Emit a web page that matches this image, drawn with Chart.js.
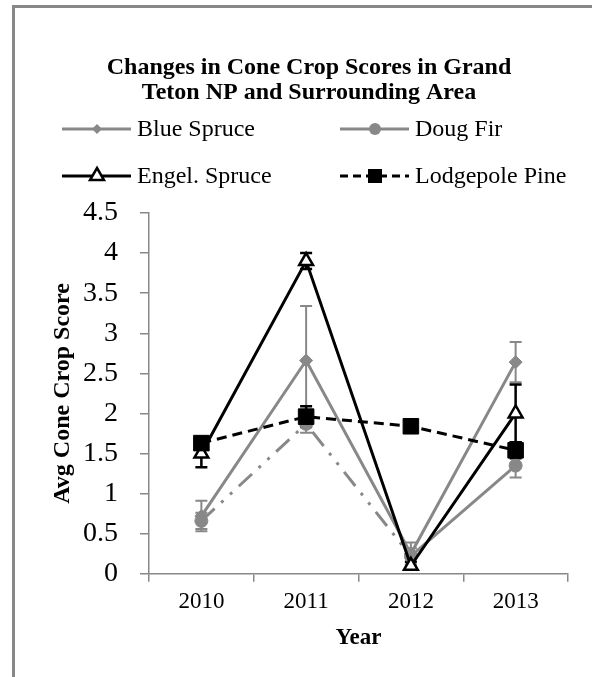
<!DOCTYPE html>
<html>
<head>
<meta charset="utf-8">
<script src="https://cdn.jsdelivr.net/npm/chart.js@4"></script>
<style>
  html, body { margin: 0; padding: 0; background: #fff; }
  body { width: 592px; height: 677px; position: relative; overflow: hidden; }
  .frame { position: absolute; left: 12px; top: 5px; width: 640px; height: 720px; border: 3px solid #888; }
  #wrap { position: absolute; left: 0; top: 0; width: 592px; height: 677px; }
</style>
</head>
<body>
<div class="frame"></div>
<div id="wrap"><canvas id="myChart" width="592" height="677"></canvas></div>
<script>
/* data */
var years = ['2010', '2011', '2012', '2013'];
var titleLines = ['Changes in Cone Crop Scores in Grand', 'Teton NP and Surrounding Area'];

var blueSpruce = [0.72, 2.66, 0.25, 2.64];
var blueSpruceErr = [0.19, 0.68, 0.14, 0.25];
var dougFir = [0.66, 1.87, 0.22, 1.35];
var dougFirErr = [0.10, 0.11, 0.10, 0.15];
var engelSpruce = [1.50, 3.90, 0.10, 2.00];
var engelSpruceErr = [0.17, 0.10, 0.05, 0.36];
var lodgepole = [1.63, 1.96, 1.84, 1.54];
var lodgepoleErr = [0.05, 0.13, 0.03, 0.10];

var GRAY = '#888888';
var BLACK = '#000000';
var SERIF = '"Liberation Serif", "Times New Roman", serif';

/* error bars, drawn under the markers */
var errorBars = {
  id: 'errorBars',
  beforeDatasetsDraw: function (chart) {
    var ctx = chart.ctx;
    var y = chart.scales.y;
    chart.data.datasets.forEach(function (ds, i) {
      var meta = chart.getDatasetMeta(i);
      if (!ds.errors) return;
      ctx.save();
      ctx.strokeStyle = ds.borderColor;
      ctx.lineWidth = ds.borderColor === BLACK ? 2.5 : 2;
      meta.data.forEach(function (pt, j) {
        var top = y.getPixelForValue(ds.data[j] + ds.errors[j]);
        var bot = y.getPixelForValue(ds.data[j] - ds.errors[j]);
        ctx.beginPath();
        ctx.moveTo(pt.x, top); ctx.lineTo(pt.x, bot);
        ctx.moveTo(pt.x - 6, top); ctx.lineTo(pt.x + 6, top);
        ctx.moveTo(pt.x - 6, bot); ctx.lineTo(pt.x + 6, bot);
        ctx.stroke();
      });
      ctx.restore();
    });
  }
};

function drawMarker(ctx, style, x, y, r, fill, stroke) {
  ctx.beginPath();
  if (style === 'circle') {
    ctx.arc(x, y, r, 0, Math.PI * 2);
  } else if (style === 'rect') {
    ctx.rect(x - r, y - r, r * 2, r * 2);
  } else if (style === 'rectRot') {
    ctx.moveTo(x, y - r); ctx.lineTo(x + r, y); ctx.lineTo(x, y + r); ctx.lineTo(x - r, y);
    ctx.closePath();
  } else if (style === 'triangle') {
    ctx.moveTo(x, y - r); ctx.lineTo(x + r * 0.87, y + r * 0.5); ctx.lineTo(x - r * 0.87, y + r * 0.5);
    ctx.closePath();
  }
  ctx.fillStyle = fill;
  ctx.fill();
  if (stroke) {
    ctx.strokeStyle = stroke;
    ctx.lineWidth = 2.5;
    ctx.setLineDash([]);
    ctx.stroke();
  }
}

/* title + two column legend */
var header = {
  id: 'header',
  afterDraw: function (chart) {
    var ctx = chart.ctx;
    ctx.save();
    ctx.fillStyle = BLACK;
    ctx.textAlign = 'center';
    ctx.textBaseline = 'alphabetic';
    ctx.font = 'bold 24px ' + SERIF;
    ctx.fillText(titleLines[0], 309, 74);
    ctx.fillText(titleLines[1], 309, 99);

    var cols = [62, 340];
    var rows = [129, 176];
    chart.data.datasets.forEach(function (ds, i) {
      var x0 = cols[i % 2], yy = rows[Math.floor(i / 2)];
      ctx.beginPath();
      ctx.strokeStyle = ds.borderColor;
      ctx.lineWidth = 3;
      ctx.setLineDash(ds.legendDash || []);
      ctx.moveTo(x0, yy); ctx.lineTo(x0 + 69, yy);
      ctx.stroke();
      ctx.setLineDash([]);
      drawMarker(ctx, ds.pointStyle, x0 + 35, yy, ds.legendRadius, ds.pointBackgroundColor,
        ds.pointBackgroundColor === '#ffffff' ? BLACK : null);
      ctx.fillStyle = BLACK;
      ctx.textAlign = 'left';
      ctx.textBaseline = 'middle';
      ctx.font = '24px ' + SERIF;
      ctx.fillText(ds.label, x0 + 75, yy + 1);
    });
    ctx.restore();
  }
};

var ctx = document.getElementById('myChart').getContext('2d');
new Chart(ctx, {
  type: 'line',
  data: {
    labels: years,
    datasets: [
      {
        label: 'Blue Spruce',
        data: blueSpruce,
        errors: blueSpruceErr,
        borderColor: GRAY,
        borderWidth: 3,
        pointStyle: 'rectRot',
        pointRadius: 6.5,
        pointBackgroundColor: GRAY,
        pointBorderColor: GRAY,
        pointBorderWidth: 1,
        legendRadius: 5,
        order: 4
      },
      {
        label: 'Doug Fir',
        data: dougFir,
        errors: dougFirErr,
        borderColor: GRAY,
        borderWidth: 3,
        pointStyle: 'circle',
        pointRadius: 6.5,
        pointBackgroundColor: GRAY,
        pointBorderColor: GRAY,
        pointBorderWidth: 1,
        legendRadius: 6,
        segment: {
          borderDash: function (c) { return c.p0DataIndex < 2 ? [18, 9, 3, 9, 3, 9] : []; }
        },
        order: 3
      },
      {
        label: 'Engel. Spruce',
        data: engelSpruce,
        errors: engelSpruceErr,
        borderColor: BLACK,
        borderWidth: 3,
        pointStyle: 'triangle',
        pointRadius: 8,
        pointBackgroundColor: '#ffffff',
        pointBorderColor: BLACK,
        pointBorderWidth: 2.5,
        legendRadius: 8,
        order: 2
      },
      {
        label: 'Lodgepole Pine',
        data: lodgepole,
        errors: lodgepoleErr,
        borderColor: BLACK,
        borderWidth: 3,
        borderDash: [10, 6],
        legendDash: [8, 5],
        pointStyle: 'rect',
        pointRadius: 11,
        pointBackgroundColor: BLACK,
        pointBorderColor: BLACK,
        pointBorderWidth: 1,
        legendRadius: 7,
        order: 1
      }
    ]
  },
  options: {
    responsive: false,
    animation: false,
    layout: { padding: { top: 213, left: 0, right: 24, bottom: 25 } },
    plugins: {
      legend: { display: false },
      title: { display: false },
      tooltip: { enabled: false }
    },
    scales: {
      x: {
        offset: true,
        grid: { offset: true, drawOnChartArea: false, drawTicks: true, tickLength: 8, color: GRAY, lineWidth: 1.5 },
        border: { color: GRAY, width: 1.5 },
        ticks: { color: BLACK, font: { family: SERIF, size: 23 }, padding: 6, maxRotation: 0 },
        title: { display: true, text: 'Year', color: BLACK, font: { family: SERIF, size: 23, weight: 'bold' }, padding: { top: 3, bottom: 0 } }
      },
      y: {
        min: 0,
        max: 4.5,
        afterFit: function (scale) { scale.width = 149; },
        grid: { drawOnChartArea: false, drawTicks: true, tickLength: 9, color: GRAY, lineWidth: 1.5 },
        border: { color: GRAY, width: 1.5 },
        ticks: {
          stepSize: 0.5, color: BLACK, font: { family: SERIF, size: 28 }, padding: 22,
          callback: function (v) { return String(Math.round(v * 10) / 10); }
        },
        title: { display: true, text: 'Avg Cone Crop Score', color: BLACK, font: { family: SERIF, size: 24, weight: 'bold' }, padding: { top: 48, bottom: 0 } }
      }
    }
  },
  plugins: [errorBars, header]
});
</script>
</body>
</html>
